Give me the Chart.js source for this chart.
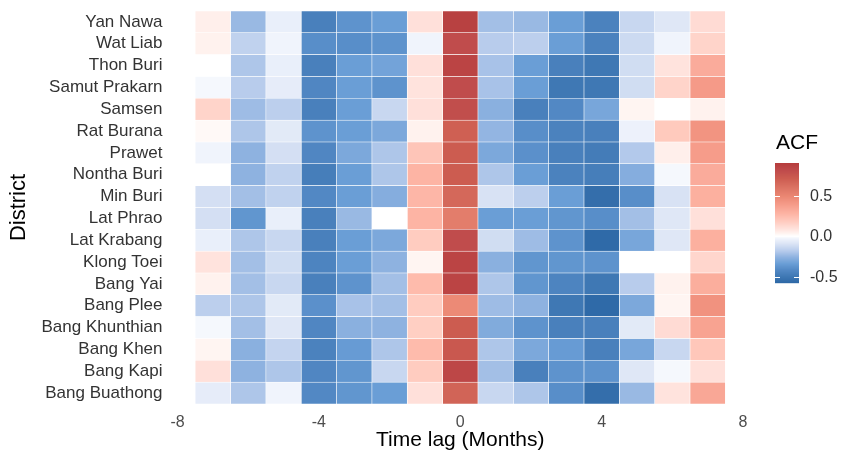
<!DOCTYPE html>
<html>
<head>
<meta charset="utf-8">
<script src="https://cdn.jsdelivr.net/npm/chart.js@4.4.1/dist/chart.umd.min.js"></script>
<style>
  html, body { margin: 0; padding: 0; background: #fff; }
  #wrap { width: 841px; height: 457px; }
</style>
</head>
<body>
<div id="wrap"><canvas id="acfChart"></canvas></div>
<script>
// districts, top row first
var districts = ['Yan Nawa', 'Wat Liab', 'Thon Buri', 'Samut Prakarn', 'Samsen', 'Rat Burana',
  'Prawet', 'Nontha Buri', 'Min Buri', 'Lat Phrao', 'Lat Krabang', 'Klong Toei', 'Bang Yai',
  'Bang Plee', 'Bang Khunthian', 'Bang Khen', 'Bang Kapi', 'Bang Buathong']

var lags = [-7, -6, -5, -4, -3, -2, -1, 0, 1, 2, 3, 4, 5, 6, 7]
var xTicks = [-8, -4, 0, 4, 8]
var legendTicks = [-0.5, 0, 0.5]
var acfMin = -0.58
var acfMax = 0.91

// ACF per district (same order as districts), one value per lag
var acfValues = [
  [0.05, -0.24, -0.05, -0.46, -0.38, -0.34, 0.10, 0.88, -0.22, -0.24, -0.34, -0.45, -0.14, -0.08, 0.12],
  [0.04, -0.16, -0.03, -0.40, -0.40, -0.38, -0.03, 0.81, -0.18, -0.17, -0.34, -0.45, -0.13, -0.03, 0.15],
  [0.00, -0.20, -0.05, -0.46, -0.34, -0.32, 0.10, 0.86, -0.21, -0.34, -0.46, -0.50, -0.12, 0.09, 0.32],
  [-0.02, -0.18, -0.06, -0.43, -0.34, -0.38, 0.09, 0.81, -0.21, -0.34, -0.50, -0.50, -0.12, 0.15, 0.40],
  [0.15, -0.23, -0.17, -0.46, -0.34, -0.14, 0.10, 0.80, -0.27, -0.46, -0.42, -0.31, 0.03, 0.00, 0.04],
  [0.02, -0.20, -0.07, -0.38, -0.34, -0.30, 0.04, 0.70, -0.25, -0.40, -0.45, -0.46, -0.04, 0.19, 0.43],
  [-0.03, -0.26, -0.11, -0.43, -0.30, -0.20, 0.21, 0.72, -0.30, -0.39, -0.46, -0.48, -0.19, 0.05, 0.39],
  [0.00, -0.26, -0.16, -0.47, -0.34, -0.20, 0.28, 0.72, -0.20, -0.34, -0.45, -0.47, -0.28, -0.02, 0.32],
  [-0.11, -0.22, -0.16, -0.42, -0.34, -0.28, 0.27, 0.66, -0.10, -0.17, -0.34, -0.55, -0.40, -0.10, 0.30],
  [-0.11, -0.37, -0.05, -0.46, -0.24, 0.00, 0.28, 0.55, -0.34, -0.34, -0.37, -0.40, -0.22, -0.08, 0.10],
  [-0.05, -0.20, -0.14, -0.46, -0.34, -0.30, 0.18, 0.81, -0.12, -0.23, -0.38, -0.57, -0.31, -0.08, 0.30],
  [0.09, -0.22, -0.12, -0.44, -0.34, -0.26, 0.03, 0.86, -0.27, -0.37, -0.37, -0.38, 0.00, 0.00, 0.14],
  [0.04, -0.22, -0.14, -0.46, -0.38, -0.22, 0.25, 0.86, -0.20, -0.37, -0.44, -0.50, -0.18, 0.04, 0.31],
  [-0.17, -0.20, -0.07, -0.39, -0.21, -0.22, 0.18, 0.48, -0.23, -0.26, -0.50, -0.57, -0.30, 0.03, 0.44],
  [-0.02, -0.22, -0.08, -0.43, -0.27, -0.26, 0.17, 0.72, -0.29, -0.38, -0.46, -0.46, -0.07, 0.12, 0.36],
  [0.03, -0.27, -0.15, -0.45, -0.35, -0.20, 0.25, 0.74, -0.20, -0.30, -0.35, -0.46, -0.31, -0.14, 0.20],
  [0.10, -0.26, -0.20, -0.43, -0.37, -0.14, 0.18, 0.84, -0.22, -0.46, -0.38, -0.38, -0.08, -0.02, 0.10],
  [-0.06, -0.20, -0.03, -0.42, -0.37, -0.34, 0.10, 0.68, -0.14, -0.20, -0.40, -0.55, -0.24, 0.09, 0.34]
]

// diverging blue-white-red scale
var colourStops = [
  [-0.58, '#2d68a6'], [-0.5, '#3f78b4'], [-0.42, '#5288c4'], [-0.34, '#6a9ed6'],
  [-0.26, '#8eb2e0'], [-0.18, '#b8ccec'], [-0.1, '#d8e2f4'], [-0.03, '#f0f4fc'],
  [0, '#ffffff'], [0.04, '#fff2ee'], [0.1, '#ffe0da'], [0.18, '#ffccc0'],
  [0.28, '#fdb4a4'], [0.4, '#f59a88'], [0.5, '#ea8672'], [0.6, '#dc7464'],
  [0.72, '#cc5c50'], [0.81, '#c04c4c'], [0.91, '#b53c3c']
]

function hexRgb(h) {
  return [parseInt(h.substr(1, 2), 16), parseInt(h.substr(3, 2), 16), parseInt(h.substr(5, 2), 16)]
}

function acfColour(v) {
  if (v <= colourStops[0][0]) return colourStops[0][1]
  for (var i = 1; i < colourStops.length; i++) {
    if (v <= colourStops[i][0]) {
      var a = colourStops[i - 1], b = colourStops[i]
      var t = (v - a[0]) / (b[0] - a[0])
      var ca = hexRgb(a[1]), cb = hexRgb(b[1])
      var c = ca.map(function (x, k) { return Math.round(x + (cb[k] - x) * t) })
      return 'rgb(' + c.join(',') + ')'
    }
  }
  return colourStops[colourStops.length - 1][1]
}

// one floating-bar dataset per lag, each bar spans one month
var datasets = lags.map(function (lag, j) {
  return {
    label: 'lag ' + lag,
    data: districts.map(function () { return [lag - 0.5, lag + 0.5] }),
    backgroundColor: acfValues.map(function (row) { return acfColour(row[j]) }),
    borderColor: '#ffffff',
    borderWidth: 0.6,
    borderSkipped: false,
    grouped: false,
    barPercentage: 1,
    categoryPercentage: 1
  }
})

// colour bar legend drawn next to the panel
var colourBar = {
  id: 'colourBar',
  afterDraw: function (chart) {
    var ctx = chart.ctx
    var area = chart.chartArea
    var left = area.right + 32, width = 24
    var top = area.top + 152, height = 120
    var yOf = function (v) { return top + (acfMax - v) / (acfMax - acfMin) * height }
    ctx.save()
    for (var py = 0; py < height; py++) {
      var v = acfMax - (py + 0.5) / height * (acfMax - acfMin)
      ctx.fillStyle = acfColour(v)
      ctx.fillRect(left, top + py, width, 1.2)
    }
    ctx.strokeStyle = '#ffffff'
    ctx.lineWidth = 1
    ctx.fillStyle = '#333333'
    ctx.font = '16px "Liberation Sans", Arial, sans-serif'
    ctx.textBaseline = 'middle'
    ctx.textAlign = 'left'
    legendTicks.forEach(function (t) {
      var y = Math.round(yOf(t)) + 0.5
      ctx.beginPath()
      ctx.moveTo(left, y); ctx.lineTo(left + 5, y)
      ctx.moveTo(left + width - 5, y); ctx.lineTo(left + width, y)
      ctx.stroke()
      ctx.fillText(t.toFixed(1), left + width + 11, y)
    })
    ctx.fillStyle = '#000000'
    ctx.font = '21px "Liberation Sans", Arial, sans-serif'
    ctx.fillText('ACF', left + 1, top - 20)
    ctx.restore()
  }
}

var ctx = document.getElementById('acfChart')
var heatmap = new Chart(ctx, {
  type: 'bar',
  data: { labels: districts, datasets: datasets },
  options: {
    indexAxis: 'y',
    responsive: true,
    maintainAspectRatio: false,
    animation: false,
    layout: { padding: { left: 6, right: 98, top: 11, bottom: 4 } },
    scales: {
      x: {
        type: 'linear',
        min: -8,
        max: 8,
        afterBuildTicks: function (scale) {
          scale.ticks = xTicks.map(function (v) { return { value: v } })
        },
        afterFit: function (scale) { scale.height = 49 },
        grid: { display: false, drawTicks: false },
        border: { display: false },
        ticks: {
          padding: 9,
          color: '#4d4d4d',
          font: { family: '"Liberation Sans", Arial, sans-serif', size: 16 }
        },
        title: {
          display: true,
          text: 'Time lag (Months)',
          color: '#000000',
          padding: 0,
          font: { family: '"Liberation Sans", Arial, sans-serif', size: 21 }
        }
      },
      y: {
        type: 'category',
        afterFit: function (scale) {
          scale.width = 171.5
          scale.paddingTop = 0
          scale.paddingBottom = 0
        },
        grid: { display: false, drawTicks: false },
        border: { display: false },
        ticks: {
          padding: 15,
          autoSkip: false,
          color: '#333333',
          font: { family: '"Liberation Sans", Arial, sans-serif', size: 17 }
        },
        title: {
          display: true,
          text: 'District',
          color: '#000000',
          padding: 0,
          font: { family: '"Liberation Sans", Arial, sans-serif', size: 22 }
        }
      }
    },
    plugins: {
      legend: { display: false },
      tooltip: { enabled: false }
    }
  },
  plugins: [colourBar]
})
</script>
</body>
</html>
